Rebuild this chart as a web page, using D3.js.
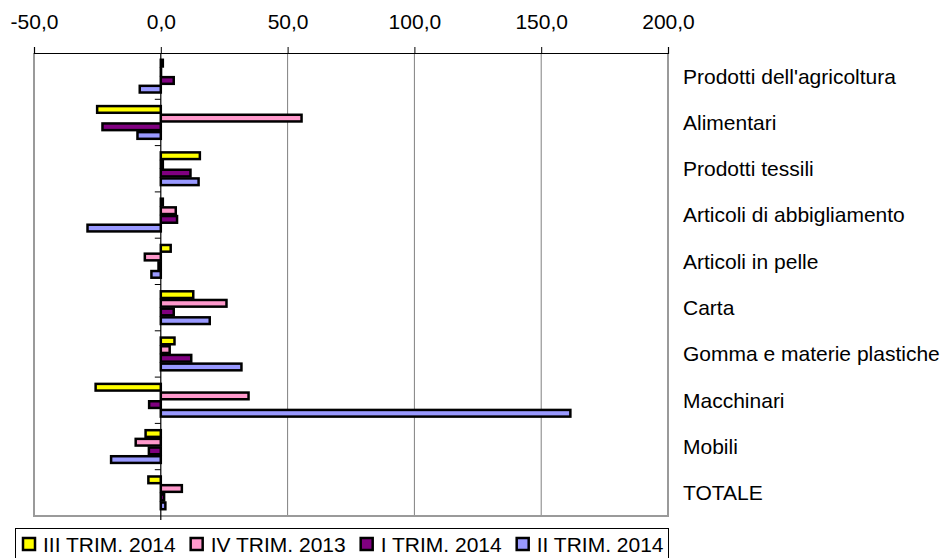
<!DOCTYPE html>
<html>
<head>
<meta charset="utf-8">
<script src="https://cdn.jsdelivr.net/npm/d3@7"></script>
<style>
  body { margin: 0; background: #fff; }
  text { font-family: Arial, "Liberation Sans", sans-serif; }
</style>
</head>
<body>
<script>
// data
const categories = [
    "Prodotti dell'agricoltura", "Alimentari", "Prodotti tessili", "Articoli di abbigliamento",
    "Articoli in pelle", "Carta", "Gomma e materie plastiche", "Macchinari", "Mobili", "TOTALE"
];
const seriesNames = ["III TRIM. 2014", "IV TRIM. 2013", "I TRIM. 2014", "II TRIM. 2014"];
const seriesColors = ["#ffff00", "#ff99cc", "#800080", "#9999ff"];
const trim3_2014 = [0.8, -25.1, 15.4, 0.8, 3.9, 12.8, 5.4, -25.7, -6.0, -4.9];
const trim4_2013 = [0.1, 55.5, 0.8, 5.9, -6.3, 25.9, 3.5, 34.6, -9.9, 8.3];
const trim1_2014 = [5.1, -23.0, 11.7, 6.4, -0.9, 5.1, 12.0, -4.6, -4.7, 1.3];
const trim2_2014 = [-8.3, -9.2, 14.9, -28.9, -3.7, 19.3, 31.8, 161.5, -19.6, 1.8];
const xTicks = [-50, 0, 50, 100, 150, 200];

const seriesValues = [trim3_2014, trim4_2013, trim1_2014, trim2_2014];

const W = 948, H = 558;
const plot = { left: 34, right: 668, top: 53, bottom: 516 };
const fontSize = 21;

const svg = d3.select('body').append('svg')
    .attr('width', W)
    .attr('height', H);

// italian number format, plain hyphen for negatives
const it = d3.formatLocale({ decimal: ",", thousands: ".", grouping: [3], currency: ["", "€"], minus: "-" });
const fmt = it.format(".1f");

const x = d3.scaleLinear().domain([-50, 200]).range([plot.left, plot.right]);
const y = d3.scaleBand().domain(categories).range([plot.top, plot.bottom])
    .paddingInner(0.25).paddingOuter(0.125);
const ySub = d3.scaleBand().domain(d3.range(seriesNames.length)).range([0, y.bandwidth()]);

// gridlines
svg.append('g')
    .selectAll('line')
    .data(xTicks.filter(t => t !== 0 && t !== -50 && t !== 200))
    .enter()
    .append('line')
    .attr('x1', d => x(d)).attr('x2', d => x(d))
    .attr('y1', plot.top).attr('y2', plot.bottom)
    .attr('stroke', '#808080')
    .attr('stroke-width', 1);

// frame (left, right, bottom in gray)
svg.append('path')
    .attr('d', `M${plot.left},${plot.top}V${plot.bottom}H${plot.right}V${plot.top}`)
    .attr('fill', 'none')
    .attr('stroke', '#9a9a9a')
    .attr('stroke-width', 2);

// top axis
const xAxis = svg.append('g')
    .attr('transform', `translate(0,${plot.top})`)
    .call(d3.axisTop(x).tickValues(xTicks).tickFormat(fmt).tickSize(6).tickPadding(18));
xAxis.select('.domain').attr('stroke', '#000').attr('stroke-width', 1.2);
xAxis.selectAll('.tick line').attr('stroke', '#000');
xAxis.selectAll('.tick text')
    .attr('font-size', fontSize)
    .attr('fill', '#000')
    .style('font-family', 'Arial, "Liberation Sans", sans-serif');

// bars
const groups = svg.append('g')
    .selectAll('g')
    .data(categories)
    .enter()
    .append('g')
    .attr('transform', d => `translate(0,${y(d)})`);

groups.selectAll('rect')
    .data((d, ci) => seriesValues.map((vals, si) => ({ si, v: vals[ci] })))
    .enter()
    .append('rect')
    .attr('x', d => Math.min(x(0), x(d.v)))
    .attr('y', d => ySub(d.si) + 1)
    .attr('width', d => Math.abs(x(d.v) - x(0)))
    .attr('height', ySub.bandwidth() - 2)
    .attr('fill', d => seriesColors[d.si])
    .attr('stroke', '#000')
    .attr('stroke-width', 2.5);

// zero line with category ticks
svg.append('line')
    .attr('x1', x(0)).attr('x2', x(0))
    .attr('y1', plot.top).attr('y2', plot.bottom + 4)
    .attr('stroke', '#000')
    .attr('stroke-width', 1.2);

svg.append('g')
    .selectAll('line')
    .data(categories.slice(1))
    .enter()
    .append('line')
    .attr('x1', x(0) - 6).attr('x2', x(0))
    .attr('y1', d => y(d) - y.step() * y.paddingInner() / 2)
    .attr('y2', d => y(d) - y.step() * y.paddingInner() / 2)
    .attr('stroke', '#000')
    .attr('stroke-width', 1);

// category labels on the right
svg.append('g')
    .selectAll('text')
    .data(categories)
    .enter()
    .append('text')
    .attr('x', 683)
    .attr('y', d => y(d) + y.bandwidth() / 2)
    .attr('dy', '0.35em')
    .attr('font-size', fontSize)
    .attr('fill', '#000')
    .text(d => d);

// legend
const legend = svg.append('g');
legend.append('rect')
    .attr('x', 15.5).attr('y', 528.5)
    .attr('width', 653).attr('height', 40)
    .attr('fill', '#fff')
    .attr('stroke', '#000')
    .attr('stroke-width', 1);

let lx = 22;
seriesNames.forEach((name, i) => {
    legend.append('rect')
        .attr('x', lx + 1).attr('y', 538)
        .attr('width', 12).attr('height', 12)
        .attr('fill', seriesColors[i])
        .attr('stroke', '#000')
        .attr('stroke-width', 2.5);
    const t = legend.append('text')
        .attr('x', lx + 21)
        .attr('y', 552)
        .attr('font-size', fontSize)
        .attr('fill', '#000')
        .text(name);
    lx += 21 + t.node().getComputedTextLength() + 14;
});
</script>
</body>
</html>
